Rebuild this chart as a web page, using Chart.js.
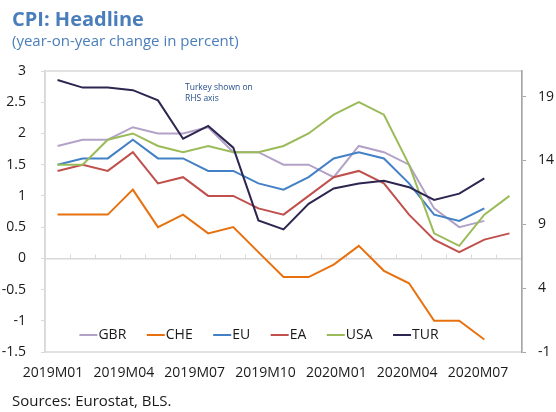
<!DOCTYPE html>
<html><head><meta charset="utf-8">
<script src="https://cdn.jsdelivr.net/npm/chart.js@4.4.0/dist/chart.umd.min.js"></script>
<style>
html,body{margin:0;padding:0;background:#fff;}
#wrap{position:relative;width:556px;height:412px;overflow:hidden;font-family:"Open Sans",sans-serif;}
#c{position:absolute;left:0;top:0;}
.t{position:absolute;white-space:nowrap;line-height:normal;}
#title{left:12px;top:5px;font-size:20px;font-weight:700;color:#4A7EBB;}
#sub{left:12px;top:30px;font-size:15px;color:#4A7EBB;}
#src{left:12px;top:390px;font-size:15px;color:#1a1a1a;}
#note{left:185px;top:81px;font-size:8.5px;line-height:11px;color:#264F8A;}
</style></head>
<body>
<div id="wrap">
<canvas id="c" width="556" height="412"></canvas>
<div class="t" id="title">CPI: Headline</div>
<div class="t" id="sub">(year-on-year change in percent)</div>
<div class="t" id="note">Turkey shown on<br>RHS axis</div>
<div class="t" id="src">Sources: Eurostat, BLS.</div>
</div>
<script>
const months = ['2019M01','2019M02','2019M03','2019M04','2019M05','2019M06','2019M07','2019M08','2019M09','2019M10','2019M11','2019M12','2020M01','2020M02','2020M03','2020M04','2020M05','2020M06','2020M07'];
const xTickLabels = ['2019M01','2019M04','2019M07','2019M10','2020M01','2020M04','2020M07'];
const leftTicks = [-1.5,-1,-0.5,0,0.5,1,1.5,2,2.5,3];
const rightTicks = [-1,4,9,14,19];

const seriesNames = ['GBR','CHE','EU','EA','USA','TUR'];
const gbr = [1.8,1.9,1.9,2.1,2.0,2.0,2.1,1.7,1.7,1.5,1.5,1.3,1.8,1.7,1.5,0.8,0.5,0.6];
const che = [0.7,0.7,0.7,1.1,0.5,0.7,0.4,0.5,0.1,-0.3,-0.3,-0.1,0.2,-0.2,-0.4,-1.0,-1.0,-1.3];
const eu  = [1.5,1.6,1.6,1.9,1.6,1.6,1.4,1.4,1.2,1.1,1.3,1.6,1.7,1.6,1.2,0.7,0.6,0.8];
const ea  = [1.4,1.5,1.4,1.7,1.2,1.3,1.0,1.0,0.8,0.7,1.0,1.3,1.4,1.2,0.7,0.3,0.1,0.3,0.4];
const usa = [1.5,1.5,1.9,2.0,1.8,1.7,1.8,1.7,1.7,1.8,2.0,2.3,2.5,2.3,1.5,0.4,0.2,0.7,1.0];
const tur = [20.3,19.7,19.7,19.5,18.7,15.7,16.7,15.0,9.3,8.6,10.6,11.8,12.2,12.4,11.9,10.9,11.4,12.6];

const colors = ['#B3A2C7','#E8710F','#4281C6','#C0504D','#9BBB59','#2E2550'];
const seriesData = [gbr, che, eu, ea, usa, tur];
const axisFor = ['y','y','y','y','y','y1'];

Chart.defaults.font.family = '"Open Sans", sans-serif';
Chart.defaults.color = '#1a1a1a';

const datasets = seriesNames.map((n, i) => ({
  label: n,
  data: seriesData[i],
  borderColor: colors[i],
  backgroundColor: colors[i],
  borderWidth: 2,
  pointRadius: 0,
  tension: 0,
  fill: false,
  xAxisID: 'x',
  yAxisID: axisFor[i],
  order: seriesNames.length - i
}));

const framePlugin = {
  id: 'frame',
  beforeDraw(chart) {
    const {ctx, chartArea: a} = chart;
    ctx.save();
    ctx.strokeStyle = '#D9D9D9';
    ctx.lineWidth = 1.5;
    ctx.strokeRect(a.left, a.top, a.right - a.left, a.bottom - a.top);
    ctx.restore();
  }
};

const legendPlugin = {
  id: 'inlegend',
  afterDatasetsDraw(chart) {
    const {ctx, chartArea: a} = chart;
    ctx.save();
    ctx.font = '14px "Open Sans", sans-serif';
    const lineLen = 18, gap = 20.5;
    const widths = seriesNames.map(n => lineLen + 1 + ctx.measureText(n).width);
    const total = widths.reduce((s, w) => s + w, 0) + gap * (seriesNames.length - 1);
    let x = a.left + 214 - total / 2;
    const y = a.bottom - 17;
    seriesNames.forEach((n, i) => {
      ctx.strokeStyle = colors[i];
      ctx.lineWidth = 2;
      ctx.beginPath();
      ctx.moveTo(x, y);
      ctx.lineTo(x + lineLen, y);
      ctx.stroke();
      ctx.fillStyle = '#1a1a1a';
      ctx.textBaseline = 'middle';
      ctx.textAlign = 'left';
      ctx.fillText(n, x + lineLen + 1, y);
      x += widths[i] + gap;
    });
    ctx.restore();
  }
};

new Chart(document.getElementById('c'), {
  type: 'line',
  data: { labels: months, datasets },
  plugins: [framePlugin, legendPlugin],
  options: {
    responsive: false,
    devicePixelRatio: 1,
    animation: false,
    layout: { padding: { top: 71, left: 0, right: 0, bottom: 0 } },
    plugins: { legend: { display: false }, tooltip: { enabled: false } },
    scales: {
      x: {
        type: 'category',
        position: { y: 0 },
        offset: true,
        grid: { offset: true, drawOnChartArea: false, drawTicks: true, tickLength: -5, color: '#D9D9D9', lineWidth: 1 },
        border: { color: '#D9D9D9', width: 1.5 },
        ticks: { display: false }
      },
      x2: {
        type: 'linear',
        position: 'bottom',
        min: -0.113,
        max: 6.621,
        grid: { display: false, drawTicks: false },
        border: { display: false },
        afterBuildTicks: s => { s.ticks = xTickLabels.map((_, i) => ({ value: i })); },
        ticks: { callback: v => xTickLabels[v], font: { size: 14 }, color: '#1a1a1a', padding: 13, maxRotation: 0, autoSkip: false },
        afterFit: s => { s.height = 60; }
      },
      y: {
        position: 'left',
        min: -1.5,
        max: 3,
        afterBuildTicks: s => { s.ticks = leftTicks.map(v => ({ value: v })); },
        ticks: { callback: v => String(v), font: { size: 14 }, color: '#1a1a1a', padding: 15 },
        grid: { drawOnChartArea: false, tickLength: 4, color: '#D9D9D9' },
        border: { color: '#D9D9D9', width: 1.5 },
        afterFit: s => { s.width = 45; }
      },
      y1: {
        position: 'right',
        min: -1,
        max: 21,
        afterBuildTicks: s => { s.ticks = rightTicks.map(v => ({ value: v })); },
        ticks: { callback: v => String(v), font: { size: 14 }, color: '#1a1a1a', padding: 12 },
        grid: { drawOnChartArea: false, tickLength: 4, color: '#A6A6A6' },
        border: { color: '#A6A6A6', width: 1.5 },
        afterFit: s => { s.width = 34; }
      }
    }
  }
});
</script>
</body></html>
